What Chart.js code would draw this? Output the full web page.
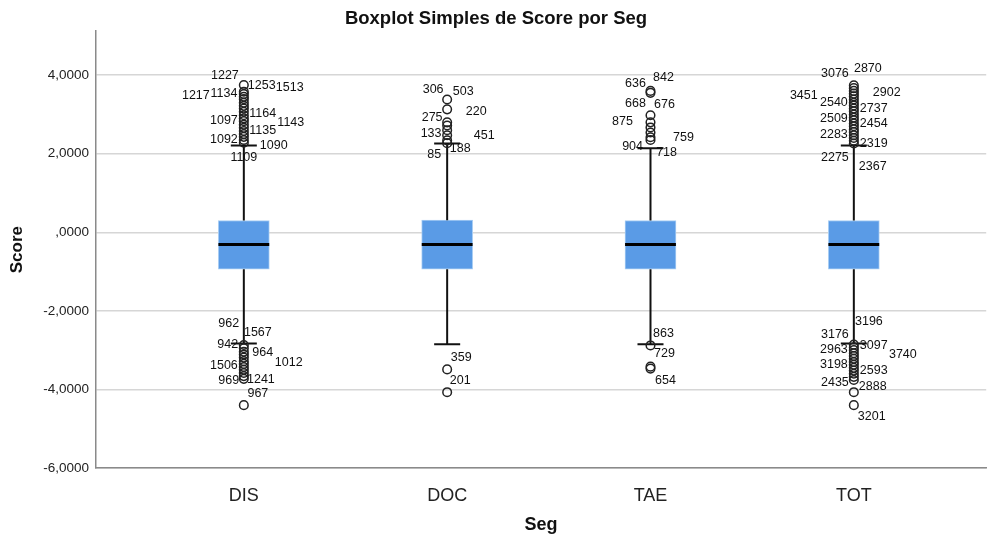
<!DOCTYPE html>
<html lang="pt">
<head>
    <meta charset="UTF-8">
    <title>Boxplot Simples de Score por Seg</title>
    <script src="https://cdn.jsdelivr.net/npm/chart.js"></script>
    <style>
        body { margin: 0; background: #fff; }
    </style>
</head>
<body>
    <canvas id="boxChart" width="992" height="536"></canvas>

    <script>
        // categories and box statistics
        const categories = ['DIS', 'DOC', 'TAE', 'TOT'];
        const q1 = [-0.94, -0.94, -0.94, -0.94];
        const median = [-0.31, -0.31, -0.31, -0.31];
        const q3 = [0.30, 0.31, 0.30, 0.30];
        const whiskerHigh = [2.21, 2.26, 2.14, 2.21];
        const whiskerLow = [-2.83, -2.85, -2.85, -2.83];

        // outliers per group
        const outliersDIS = [3.75, 3.58, 3.52, 3.45, 3.39, 3.30, 3.22, 3.15, 3.07, 2.98, 2.90, 2.83, 2.74, 2.66, 2.58, 2.50, 2.43, 2.35, 2.28,
                             -2.87, -2.95, -3.04, -3.11, -3.19, -3.28, -3.35, -3.43, -3.50, -3.58, -3.66, -3.73, -4.40];
        const outliersDOC = [3.38, 3.13, 2.80, 2.72, 2.60, 2.47, 2.34, 2.27, -3.49, -4.07];
        const outliersTAE = [3.60, 3.55, 2.98, 2.80, 2.67, 2.54, 2.42, 2.35, -2.88, -3.42, -3.47];
        const outliersTOT = [3.74, 3.67, 3.60, 3.53, 3.46, 3.38, 3.30, 3.23, 3.15, 3.08, 3.00, 2.92, 2.85, 2.77, 2.70, 2.62, 2.55, 2.47, 2.40, 2.33, 2.26,
                             -2.86, -2.93, -3.00, -3.08, -3.15, -3.22, -3.30, -3.37, -3.45, -3.52, -3.60, -3.68, -3.76, -4.07, -4.40];

        // case number labels: [text, offset from group centre (category units), score]
        const labelsDIS = [
            ['1227', -0.093, 4.00], ['1253', 0.088, 3.74], ['1513', 0.226, 3.69], ['1217', -0.236, 3.49],
            ['1134', -0.098, 3.54], ['1164', 0.093, 3.03], ['1097', -0.098, 2.85], ['1143', 0.231, 2.80],
            ['1135', 0.093, 2.60], ['1092', -0.098, 2.37], ['1090', 0.147, 2.21], ['1109', 0.0, 1.91],
            ['962', -0.074, -2.32], ['1567', 0.069, -2.54], ['942', -0.079, -2.85], ['964', 0.093, -3.05],
            ['1012', 0.221, -3.31], ['1506', -0.098, -3.38], ['969', -0.074, -3.77], ['1241', 0.084, -3.74],
            ['967', 0.069, -4.10]
        ];
        const labelsDOC = [
            ['306', -0.069, 3.64], ['503', 0.079, 3.59], ['220', 0.143, 3.08], ['275', -0.074, 2.93],
            ['133', -0.079, 2.52], ['451', 0.182, 2.47], ['188', 0.064, 2.14], ['85', -0.064, 1.98],
            ['359', 0.069, -3.18], ['201', 0.064, -3.77]
        ];
        const labelsTAE = [
            ['636', -0.074, 3.79], ['842', 0.064, 3.95], ['668', -0.074, 3.28], ['676', 0.069, 3.25],
            ['875', -0.138, 2.82], ['759', 0.162, 2.42], ['904', -0.088, 2.19], ['718', 0.079, 2.04],
            ['863', 0.064, -2.57], ['729', 0.069, -3.08], ['654', 0.074, -3.77]
        ];
        const labelsTOT = [
            ['3076', -0.093, 4.05], ['2870', 0.069, 4.17], ['3451', -0.246, 3.49], ['2540', -0.098, 3.31],
            ['2902', 0.162, 3.56], ['2737', 0.098, 3.16], ['2509', -0.098, 2.90], ['2454', 0.098, 2.77],
            ['2283', -0.098, 2.49], ['2319', 0.098, 2.26], ['2275', -0.093, 1.91], ['2367', 0.093, 1.68],
            ['3196', 0.074, -2.26], ['3176', -0.093, -2.60], ['2963', -0.098, -2.98], ['3097', 0.098, -2.88],
            ['3740', 0.241, -3.10], ['3198', -0.098, -3.36], ['2593', 0.098, -3.51], ['2435', -0.093, -3.82],
            ['2888', 0.093, -3.92], ['3201', 0.088, -4.68]
        ];

        const yTicks = [-6, -4, -2, 0, 2, 4];

        const allOutliers = [outliersDIS, outliersDOC, outliersTAE, outliersTOT];
        const allLabels = [labelsDIS, labelsDOC, labelsTAE, labelsTOT];

        const capHalf = 0.064;     // half width of whisker cap
        const boxHalf = 0.125;     // half width of median bar
        const FONT = '"Liberation Sans", Arial, sans-serif';

        // build datasets from the arrays
        const boxData = categories.map((c, i) => ({ x: i, y: [q1[i], q3[i]] }));
        const whiskerData = [];
        const medianData = [];
        categories.forEach((c, i) => {
            whiskerData.push({ x: i, y: q3[i] }, { x: i, y: whiskerHigh[i] }, { x: i, y: null });
            whiskerData.push({ x: i - capHalf, y: whiskerHigh[i] }, { x: i + capHalf, y: whiskerHigh[i] }, { x: i, y: null });
            whiskerData.push({ x: i, y: q1[i] }, { x: i, y: whiskerLow[i] }, { x: i, y: null });
            whiskerData.push({ x: i - capHalf, y: whiskerLow[i] }, { x: i + capHalf, y: whiskerLow[i] }, { x: i, y: null });
            medianData.push({ x: i - boxHalf, y: median[i] }, { x: i + boxHalf, y: median[i] }, { x: i, y: null });
        });
        const outlierData = [];
        allOutliers.forEach((list, i) => list.forEach(v => outlierData.push({ x: i, y: v })));

        function fmt(v) {
            let s = Math.abs(v).toFixed(4).replace('.', ',');
            if (s.startsWith('0,')) s = s.slice(1);
            return (v < 0 ? '-' : '') + s;
        }

        // draws the case numbers next to the outliers
        const caseLabels = {
            id: 'caseLabels',
            afterDatasetsDraw(chart) {
                const { ctx, scales: { x, y } } = chart;
                ctx.save();
                ctx.font = '12.5px ' + FONT;
                ctx.fillStyle = '#111';
                ctx.textAlign = 'center';
                ctx.textBaseline = 'middle';
                allLabels.forEach((list, i) => {
                    list.forEach(([t, dx, v]) => {
                        ctx.fillText(t, x.getPixelForValue(i + dx), y.getPixelForValue(v));
                    });
                });
                ctx.restore();
            }
        };

        const ctx = document.getElementById('boxChart').getContext('2d');
        const boxChart = new Chart(ctx, {
            type: 'bar',
            data: {
                datasets: [
                    {
                        type: 'bar',
                        data: boxData,
                        backgroundColor: '#5a9be6',
                        borderColor: '#a8cdf3',
                        borderWidth: 1,
                        borderSkipped: false,
                        barThickness: 51,
                        grouped: false,
                        order: 4
                    },
                    {
                        type: 'line',
                        data: whiskerData,
                        borderColor: '#111',
                        borderWidth: 2,
                        pointRadius: 0,
                        spanGaps: false,
                        order: 3
                    },
                    {
                        type: 'line',
                        data: medianData,
                        borderColor: '#000',
                        borderWidth: 3,
                        pointRadius: 0,
                        spanGaps: false,
                        order: 2
                    },
                    {
                        type: 'scatter',
                        data: outlierData,
                        pointRadius: 4.3,
                        pointBorderWidth: 1.5,
                        borderColor: '#222',
                        backgroundColor: 'rgba(255,255,255,0)',
                        order: 1
                    }
                ]
            },
            options: {
                responsive: false,
                animation: false,
                layout: { padding: { left: 0, right: 0, top: 0, bottom: 0 } },
                plugins: {
                    legend: { display: false },
                    tooltip: { enabled: false },
                    title: {
                        display: true,
                        text: 'Boxplot Simples de Score por Seg',
                        color: '#111',
                        font: { family: FONT, size: 18.5, weight: 'bold' },
                        padding: { top: 8, bottom: 1 }
                    }
                },
                scales: {
                    x: {
                        type: 'linear',
                        min: -0.727,
                        max: 3.651,
                        offset: false,
                        grid: { display: false, offset: false },
                        border: { display: true, color: '#8a8a8a', width: 1.5 },
                        afterBuildTicks: s => { s.ticks = categories.map((c, i) => ({ value: i })); },
                        afterFit: s => { s.height = 68; },
                        ticks: {
                            callback: v => categories[v],
                            color: '#222',
                            padding: 9,
                            font: { family: FONT, size: 18 }
                        },
                        title: {
                            display: true,
                            text: 'Seg',
                            color: '#111',
                            padding: { top: 4, bottom: 0 },
                            font: { family: FONT, size: 18, weight: 'bold' }
                        }
                    },
                    y: {
                        min: -6,
                        max: 5.12,
                        afterBuildTicks: s => { s.ticks = yTicks.map(v => ({ value: v })); },
                        afterFit: s => { s.width = 96; },
                        grid: { color: '#d6d6d6', lineWidth: 1.5, drawTicks: false },
                        border: { display: true, color: '#8a8a8a', width: 1.5 },
                        ticks: {
                            callback: v => fmt(v),
                            color: '#222',
                            padding: 7,
                            font: { family: FONT, size: 13.5 }
                        },
                        title: {
                            display: true,
                            text: 'Score',
                            color: '#111',
                            padding: { top: 7, bottom: 0 },
                            font: { family: FONT, size: 17, weight: 'bold' }
                        }
                    }
                }
            },
            plugins: [caseLabels]
        });
    </script>
</body>
</html>
